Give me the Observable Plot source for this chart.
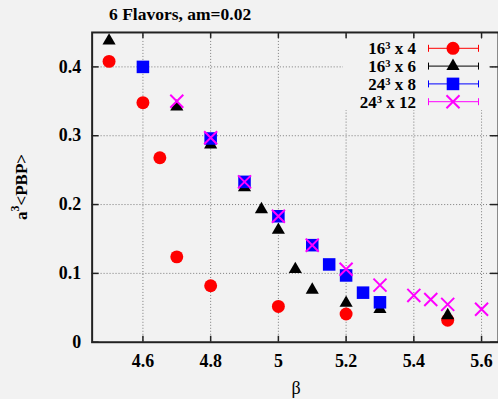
<!DOCTYPE html>
<html><head><meta charset="utf-8">
<script src="https://cdn.jsdelivr.net/npm/d3@7"></script>
<script src="https://cdn.jsdelivr.net/npm/@observablehq/plot@0.6"></script>
<style>
html,body{margin:0;padding:0;background:#f2f2f2;overflow:hidden}
#wrap{position:relative;width:498px;height:399px;overflow:hidden;font-family:"Liberation Serif",serif}
#title{height:26px;padding-left:109px;font-weight:bold;font-size:17.5px;line-height:28px;color:#000;white-space:nowrap}
#chart svg{display:block}
#overlay{position:absolute;left:0;top:0;pointer-events:none}
</style>
</head><body>
<div id="wrap"><div id="title">6 Flavors, am=0.02</div><div id="chart"></div></div>
<script>
// ---- data ----
const betaL4  = [4.5, 4.6, 4.65, 4.7, 4.8, 5.0, 5.2, 5.5];
const pbpL4   = [0.408, 0.348, 0.268, 0.124, 0.082, 0.052, 0.041, 0.032];
const betaL6  = [4.5, 4.7, 4.8, 4.9, 4.95, 5.0, 5.05, 5.1, 5.2, 5.3, 5.5];
const pbpL6   = [0.438, 0.342, 0.287, 0.225, 0.193, 0.163, 0.106, 0.076, 0.057, 0.048, 0.039];
const betaL8  = [4.6, 4.8, 4.9, 5.0, 5.1, 5.15, 5.2, 5.25, 5.3];
const pbpL8   = [0.400, 0.296, 0.233, 0.183, 0.141, 0.113, 0.097, 0.072, 0.058];
const betaL12 = [4.7, 4.8, 4.9, 5.0, 5.1, 5.2, 5.3, 5.4, 5.45, 5.5, 5.6];
const pbpL12  = [0.350, 0.297, 0.233, 0.183, 0.141, 0.106, 0.083, 0.068, 0.062, 0.055, 0.048];
const xTicks = [4.6, 4.8, 5, 5.2, 5.4, 5.6];
const yTicks = [0, 0.1, 0.2, 0.3, 0.4];
const legendBase = ["16", "16", "24", "24"];
const legendNt = ["4", "6", "8", "12"];
const seriesColors = ["#ff0000", "#000000", "#0000ff", "#ff00ff"];
const seriesSymbols = ["circle", "triangle", "square", "times"];

const toRows = (b, v) => b.map((x, i) => ({beta: x, pbp: v[i]}));
const s4 = toRows(betaL4, pbpL4), s6 = toRows(betaL6, pbpL6), s8 = toRows(betaL8, pbpL8), s12 = toRows(betaL12, pbpL12);

const W = 500, H = 373, mL = 92, mR = 0, mT = 6, mB = 56;
const plotW = W - mL - mR, plotH = H - mT - mB;
const gridStyle = {stroke: "#7a7a7a", strokeOpacity: 1, strokeDasharray: "1,2", strokeWidth: 1};

const chart = Plot.plot({
  width: W, height: H, marginLeft: mL, marginRight: mR, marginTop: mT, marginBottom: mB,
  x: {domain: [4.45, 5.65]},
  y: {domain: [0, 0.45]},
  style: {background: "transparent", fontFamily: "Liberation Serif, serif", fontSize: "18px", fontWeight: "bold", color: "#000"},
  marks: [
    Plot.gridX(xTicks, gridStyle),
    Plot.gridY(yTicks.filter(d => d > 0), gridStyle),
    Plot.axisX(xTicks, {tickSize: 0, tickPadding: 12, label: null, tickFormat: d => String(d)}),
    Plot.axisY(yTicks, {tickSize: 0, tickPadding: 11, label: null, tickFormat: d => String(d)}),
    Plot.tickY(yTicks, {y: d => d, insetRight: plotW - 7, stroke: "#222", strokeWidth: 1.5}),
    Plot.tickY(yTicks, {y: d => d, insetLeft: plotW - 8, stroke: "#222", strokeWidth: 1.5}),
    Plot.tickX(xTicks, {x: d => d, insetBottom: plotH - 6, stroke: "#222", strokeWidth: 1.5}),
    Plot.tickX(xTicks, {x: d => d, insetTop: plotH - 6, stroke: "#222", strokeWidth: 1.5}),
    Plot.frame({stroke: "#222", strokeWidth: 2}),
    Plot.dot(s4, {x: "beta", y: "pbp", symbol: "circle", r: 6.5, fill: seriesColors[0], stroke: null}),
    Plot.dot(s6, {x: "beta", y: "pbp", symbol: "triangle", r: 4.9, fill: seriesColors[1], stroke: null}),
    Plot.dot(s8, {x: "beta", y: "pbp", symbol: "square", r: 7.1, fill: seriesColors[2], stroke: null}),
    Plot.dot(s12, {x: "beta", y: "pbp", symbol: "times", r: 6, stroke: seriesColors[3], strokeWidth: 2, fill: "none"})
  ]
});
document.getElementById("chart").appendChild(chart);

// ---- overlay: axis labels and legend ----
const ov = d3.select("#wrap").append("svg").attr("id", "overlay").attr("width", 498).attr("height", 399)
  .style("font-family", "Liberation Serif, serif");

// y label
const yl = ov.append("text").attr("transform", "translate(27,187) rotate(-90)").attr("text-anchor", "middle")
  .attr("font-weight", "bold").attr("font-size", 17).attr("fill", "#000");
yl.append("tspan").text("a");
yl.append("tspan").attr("font-size", 12).attr("dy", -8).text("3");
yl.append("tspan").attr("dy", 8).text("<PBP>");

// x label
ov.append("text").attr("x", 296).attr("y", 394).attr("text-anchor", "middle").attr("font-size", 18).attr("fill", "#000").text("β");

// legend
const lg = ov.append("g");
lg.append("rect").attr("x", 343).attr("y", 39).attr("width", 146).attr("height", 71).attr("fill", "#f2f2f2");
const sizes = [Math.PI * 6.5 * 6.5, Math.PI * 4.9 * 4.9, Math.PI * 7.1 * 7.1, Math.PI * 36];
const symMap = {circle: d3.symbolCircle, triangle: d3.symbolTriangle, square: d3.symbolSquare, times: d3.symbolTimes};
legendBase.forEach((b, i) => {
  const cy = 48.3 + i * 17.8;
  const t = lg.append("text").attr("x", 416).attr("y", cy + 6).attr("text-anchor", "end")
    .attr("font-weight", "bold").attr("font-size", 17).attr("fill", "#000");
  t.append("tspan").text(b);
  t.append("tspan").attr("font-size", 10.5).attr("dy", -5).text("3");
  t.append("tspan").attr("dy", 5).text(" x " + legendNt[i]);
  const c = seriesColors[i];
  lg.append("line").attr("x1", 428).attr("x2", 478).attr("y1", cy).attr("y2", cy).attr("stroke", c).attr("stroke-width", 1);
  lg.append("line").attr("x1", 428.5).attr("x2", 428.5).attr("y1", cy - 3.5).attr("y2", cy + 3.5).attr("stroke", c);
  lg.append("line").attr("x1", 478.5).attr("x2", 478.5).attr("y1", cy - 3.5).attr("y2", cy + 3.5).attr("stroke", c);
  const p = lg.append("path").attr("transform", `translate(453,${cy})`).attr("d", d3.symbol(symMap[seriesSymbols[i]], sizes[i])());
  if (seriesSymbols[i] === "times") p.attr("fill", "none").attr("stroke", c).attr("stroke-width", 2);
  else p.attr("fill", c);
});
</script>
</body></html>
